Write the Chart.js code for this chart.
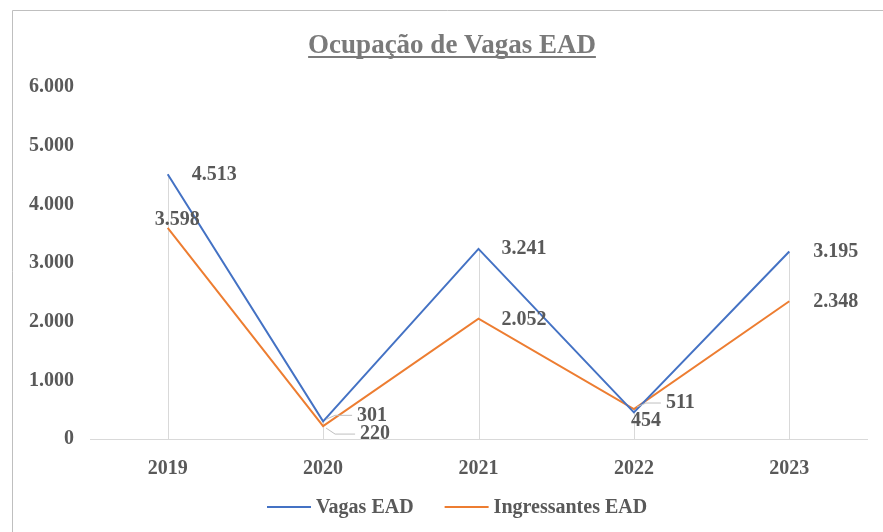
<!DOCTYPE html>
<html>
<head>
<meta charset="utf-8">
<style>
  html, body { margin: 0; padding: 0; background: #ffffff; }
  #wrap { position: relative; width: 883px; height: 532px; }
  canvas { display: block; }
</style>
<script src="https://cdn.jsdelivr.net/npm/chart.js@4/dist/chart.umd.min.js"></script>
</head>
<body>
<div id="wrap"><canvas id="c" width="883" height="532"></canvas></div>
<script>
const chartTitle = 'Ocupação de Vagas EAD';
const categories = ['2019', '2020', '2021', '2022', '2023'];
const seriesNames = ['Vagas EAD', 'Ingressantes EAD'];
const vagasEAD = [4513, 301, 3241, 454, 3195];
const ingressantesEAD = [3598, 220, 2052, 511, 2348];
const yTicks = [0, 1000, 2000, 3000, 4000, 5000, 6000];

const FONT = '"Liberation Serif", "Times New Roman", serif';
const TEXT = '#595959';

function fmt(v) {
  return String(Math.round(v)).replace(/\B(?=(\d{3})+(?!\d))/g, '.');
}

// label placement style per dataset/point: [dx, dy, leader]
const labelStyle = [
  [[24, 1], [34, -6, true], [23, 0], [-3, 8], [24, 0]],
  [[-13, -8], [37, 8, true], [23, 1], [32, -6, true], [24, 1]]
];

const framePlugin = {
  id: 'frame',
  beforeDraw(chart) {
    const ctx = chart.ctx;
    ctx.save();
    ctx.fillStyle = '#ffffff';
    ctx.fillRect(0, 0, chart.width, chart.height);
    ctx.strokeStyle = '#bfbfbf';
    ctx.lineWidth = 1;
    ctx.beginPath();
    ctx.moveTo(12.5, chart.height);
    ctx.lineTo(12.5, 10.5);
    ctx.lineTo(chart.width, 10.5);
    ctx.stroke();
    ctx.restore();
  },
  beforeDatasetsDraw(chart) {
    const ctx = chart.ctx;
    const x = chart.scales.x, y = chart.scales.y;
    ctx.save();
    ctx.strokeStyle = '#d9d9d9';
    ctx.lineWidth = 1;
    categories.forEach((c, i) => {
      const top = Math.max(...chart.data.datasets.map(d => d.data[i]));
      const px = Math.round(x.getPixelForValue(i)) + 0.5;
      ctx.beginPath();
      ctx.moveTo(px, y.getPixelForValue(top));
      ctx.lineTo(px, y.getPixelForValue(0));
      ctx.stroke();
    });
    ctx.restore();
  },
  afterDraw(chart) {
    const ctx = chart.ctx;
    ctx.save();
    // title
    ctx.font = 'bold 27px ' + FONT;
    ctx.fillStyle = '#7a7a7a';
    ctx.textAlign = 'center';
    ctx.textBaseline = 'alphabetic';
    const tx = 452, ty = 53;
    ctx.fillText(chartTitle, tx, ty);
    const w = ctx.measureText(chartTitle).width;
    ctx.fillRect(tx - w / 2, ty + 3, w, 2);

    // data labels
    ctx.font = 'bold 20px ' + FONT;
    ctx.textBaseline = 'middle';
    ctx.textAlign = 'left';
    chart.data.datasets.forEach((ds, di) => {
      const meta = chart.getDatasetMeta(di);
      meta.data.forEach((pt, i) => {
        const st = labelStyle[di][i];
        const lx = pt.x + st[0], ly = pt.y + st[1];
        if (st[2]) {
          ctx.strokeStyle = '#bfbfbf';
          ctx.lineWidth = 1;
          ctx.beginPath();
          ctx.moveTo(pt.x + 3, pt.y + (st[1] > 0 ? 2 : -2));
          ctx.lineTo(pt.x + 12, ly);
          ctx.lineTo(lx - 5, ly);
          ctx.stroke();
        }
        ctx.fillStyle = TEXT;
        ctx.fillText(fmt(ds.data[i]), lx, ly);
      });
    });

    // legend
    ctx.font = 'bold 20px ' + FONT;
    ctx.textAlign = 'left';
    ctx.textBaseline = 'middle';
    const ly = 508;
    let lx = 267;
    chart.data.datasets.forEach((ds) => {
      ctx.strokeStyle = ds.borderColor;
      ctx.lineWidth = 2;
      ctx.beginPath();
      ctx.moveTo(lx, ly - 1);
      ctx.lineTo(lx + 44, ly - 1);
      ctx.stroke();
      ctx.fillStyle = TEXT;
      ctx.fillText(ds.label, lx + 49, ly);
      lx += 49 + ctx.measureText(ds.label).width + 31;
    });
    ctx.restore();
  }
};

new Chart(document.getElementById('c'), {
  type: 'line',
  data: {
    labels: categories,
    datasets: [
      { label: seriesNames[0], data: vagasEAD, borderColor: '#4472C4', backgroundColor: '#4472C4', borderWidth: 2, pointRadius: 0, tension: 0 },
      { label: seriesNames[1], data: ingressantesEAD, borderColor: '#ED7D31', backgroundColor: '#ED7D31', borderWidth: 2, pointRadius: 0, tension: 0 }
    ]
  },
  options: {
    responsive: false,
    animation: false,
    devicePixelRatio: 1,
    layout: { padding: { top: 87, left: 0, right: 16, bottom: 33 } },
    plugins: { legend: { display: false }, title: { display: false }, tooltip: { enabled: false } },
    scales: {
      x: {
        offset: true,
        grid: { display: false, drawTicks: false },
        border: { display: true, color: '#d9d9d9', width: 1 },
        ticks: { color: TEXT, font: { family: FONT, size: 20, weight: 'bold' }, padding: 18 }
      },
      y: {
        min: 0, max: 6000,
        afterBuildTicks(scale) { scale.ticks = yTicks.map(v => ({ value: v })); },
        afterFit(scale) { scale.width = 90; },
        grid: { display: false, drawTicks: false },
        border: { display: false },
        ticks: { color: TEXT, font: { family: FONT, size: 20, weight: 'bold' }, padding: 16, callback: v => fmt(v) }
      }
    }
  },
  plugins: [framePlugin]
});
</script>
</body>
</html>
